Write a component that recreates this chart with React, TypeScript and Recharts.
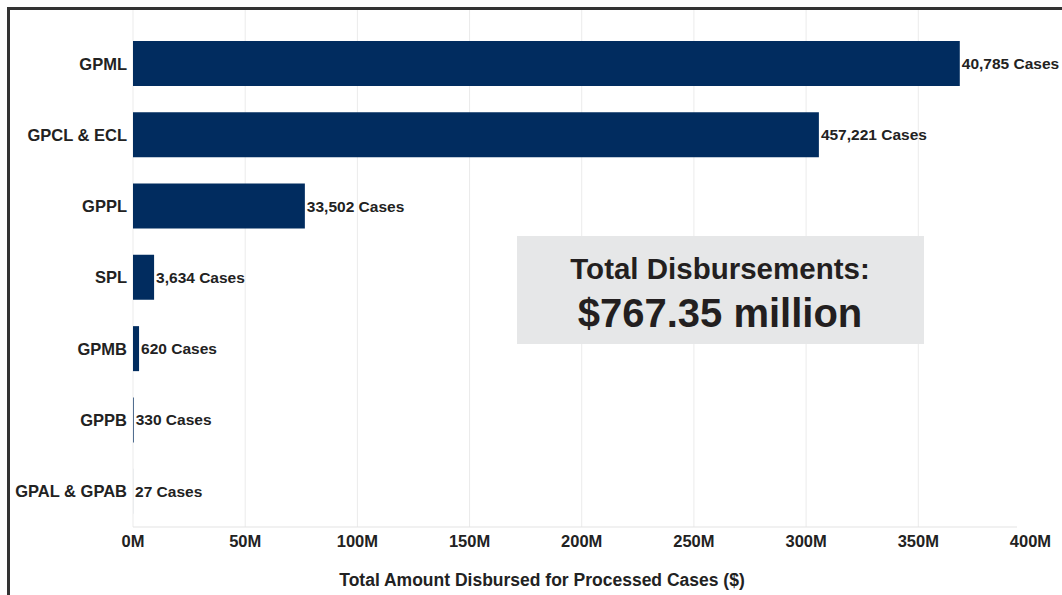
import React from 'react';
import { BarChart, Bar, XAxis, YAxis, ReferenceLine, LabelList, Label } from 'recharts';

const categories = ['GPML', 'GPCL & ECL', 'GPPL', 'SPL', 'GPMB', 'GPPB', 'GPAL & GPAB'];
const amountsMillions = [368.5, 305.7, 76.6, 9.4, 2.7, 0.3, 0.02];
const caseCounts = [40785, 457221, 33502, 3634, 620, 330, 27];
const xTicks = [0, 50, 100, 150, 200, 250, 300, 350, 400];
const xDomainMax = 394;
const axisTitle = 'Total Amount Disbursed for Processed Cases ($)';
const totalTitle = 'Total Disbursements:';
const totalValue = '$767.35 million';

const data = categories.map((name, i) => ({
  name,
  amount: amountsMillions[i],
  cases: caseCounts[i],
}));

const gridValues = xTicks.filter((t) => t <= xDomainMax);

const FONT = '"Liberation Sans", Arial, Helvetica, sans-serif';
const TEXT = '#222222';
const BAR = '#012c5f';

const ValueLabel = (props: any) => {
  const { x, y, width, height, value } = props;
  const n = Number(value);
  return (
    <text
      x={Number(x) + Number(width) + 2}
      y={Number(y) + Number(height) / 2}
      dominantBaseline="central"
      fontFamily={FONT}
      fontWeight="bold"
      fontSize={15.5}
      fill={TEXT}
    >
      {`${n.toLocaleString('en-US')} Cases`}
    </text>
  );
};

const AxisTitle = (props: any) => {
  const vb = props.viewBox || {};
  const cx = Number(vb.x) + Number(vb.width) / 2 - 33;
  const baseY = Number(vb.y) + Number(vb.height) + 29;
  return (
    <text
      x={cx}
      y={baseY}
      textAnchor="middle"
      fontFamily={FONT}
      fontWeight="bold"
      fontSize={17.5}
      fill={TEXT}
    >
      {axisTitle}
    </text>
  );
};

export default function App() {
  const refProps: any = { zIndex: -100 };
  return (
    <div style={{ position: 'fixed', inset: 0, overflow: 'hidden', background: '#ffffff' }}>
      <div
        style={{
          position: 'absolute',
          left: 7,
          top: 7,
          width: 1055,
          height: 588,
          boxSizing: 'border-box',
          borderLeft: '3px solid #333333',
          borderTop: '3px solid #333333',
        }}
      >
        <BarChart
          width={1052}
          height={585}
          data={data}
          layout="vertical"
          margin={{ top: 0, right: 45, bottom: 38, left: 0 }}
          style={{ fontFamily: FONT }}
        >
          {gridValues.map((v) => (
            <ReferenceLine
              key={`g${v}`}
              x={v}
              stroke="#ebebeb"
              strokeWidth={1}
              ifOverflow="visible"
              {...refProps}
            />
          ))}
          <XAxis
            type="number"
            domain={[0, xDomainMax]}
            allowDataOverflow
            ticks={xTicks}
            interval={0}
            tickFormatter={(v: number) => `${v}M`}
            tickLine={false}
            axisLine={{ stroke: '#e3e3e3' }}
            height={30}
            tick={{ fontSize: 16.5, fontWeight: 'bold', fill: TEXT, fontFamily: FONT }}
          >
            <Label position="bottom" content={<AxisTitle />} />
          </XAxis>
          <YAxis
            type="category"
            dataKey="name"
            width={123}
            tickLine={false}
            axisLine={false}
            tickMargin={0}
            interval={0}
            padding={{ top: 18, bottom: 0 }}
            tick={{ fontSize: 16.5, fontWeight: 'bold', fill: TEXT, fontFamily: FONT }}
          />
          <Bar dataKey="amount" fill={BAR} barSize={45} isAnimationActive={false}>
            <LabelList dataKey="cases" content={<ValueLabel />} />
          </Bar>
        </BarChart>
      </div>
      <svg
        width={1062}
        height={595}
        style={{ position: 'absolute', left: 0, top: 0, pointerEvents: 'none' }}
      >
        <rect x={517} y={236} width={407} height={108} fill="#e6e7e8" />
        <text
          x={720}
          y={279}
          textAnchor="middle"
          fontFamily={FONT}
          fontWeight="bold"
          fontSize={29.5}
          fill="#231f20"
        >
          {totalTitle}
        </text>
        <text
          x={720}
          y={327}
          textAnchor="middle"
          fontFamily={FONT}
          fontWeight="bold"
          fontSize={40}
          fill="#231f20"
        >
          {totalValue}
        </text>
      </svg>
    </div>
  );
}
